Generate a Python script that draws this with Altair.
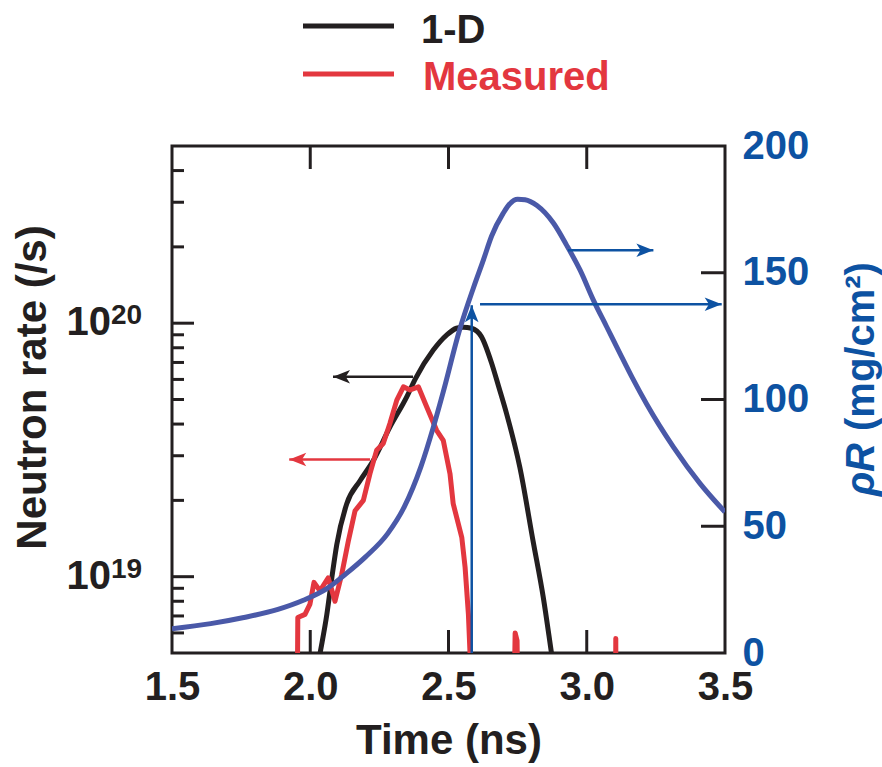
import altair as alt
import pandas as pd

FONT = "Liberation Sans, Arial, Helvetica, sans-serif"
BLACK = "#231f20"
RED = "#e3373f"
BLUE_LINE = "#4a59a8"
BLUE = "#0d52a2"

# ---------------- data ----------------
# areal density rhoR (right axis, mg/cm^2)
rho_t = [1.50, 1.64, 1.76, 1.88, 1.975, 2.06, 2.13, 2.20, 2.28, 2.34, 2.40, 2.445,
         2.481, 2.54, 2.59, 2.626, 2.656, 2.698, 2.72, 2.75, 2.777, 2.82, 2.88, 2.927,
         2.976, 3.024, 3.072, 3.12, 3.165, 3.217, 3.313, 3.41, 3.50]
rho_v = [9.6, 11.6, 14.0, 17.1, 20.8, 25.4, 31.3, 37.9, 47.1, 57.6, 73.4, 89.0,
         103.0, 127.4, 144.0, 155.0, 164.5, 173.5, 177.0, 179.0, 178.8, 176.5, 169.5,
         160.9, 151.0, 139.2, 128.7, 118.2, 108.5, 98.1, 81.3, 66.8, 55.6]

# 1-D simulated neutron rate (left axis, /s)
oned_t = [2.020, 2.035, 2.060, 2.078, 2.096, 2.132, 2.180, 2.228, 2.288, 2.349, 2.380,
          2.445, 2.494, 2.529, 2.553, 2.583, 2.619, 2.656, 2.680, 2.710, 2.758, 2.806,
          2.843, 2.873, 2.890]
oned_v = [4.0e18, 4.95e18, 7.1e18, 9.9e18, 1.34e19, 1.94e19, 2.39e19, 2.87e19, 3.89e19,
          5.12e19, 6.03e19, 7.83e19, 8.99e19, 9.55e19, 9.64e19, 9.55e19, 8.85e19, 6.95e19,
          5.69e19, 4.40e19, 2.70e19, 1.38e19, 8.26e18, 4.95e18, 3.7e18]

# measured neutron rate (left axis, /s)
meas_t = [1.950, 1.955, 1.981, 1.999, 2.0135, 2.035, 2.065, 2.0895, 2.1137, 2.1376,
          2.162, 2.192, 2.216, 2.240, 2.264, 2.288, 2.313, 2.337, 2.361, 2.391, 2.421,
          2.457, 2.481, 2.5054, 2.517, 2.548, 2.560, 2.572, 2.578, 2.585, 2.730, 2.741,
          2.748, 2.756, 3.103, 3.105, 3.107]
meas_v = [1e18, 6.9e18, 7.1e18, 7.8e18, 9.5e18, 8.8e18, 9.9e18, 8.0e18, 1.02e19, 1.38e19,
          1.82e19, 2.0e19, 2.55e19, 3.15e19, 3.35e19, 4.02e19, 4.97e19, 5.61e19, 5.45e19,
          5.61e19, 4.68e19, 3.78e19, 3.45e19, 2.55e19, 1.94e19, 1.43e19, 1.09e19, 7.1e18,
          4.95e18, 1e18, 1e18, 6.0e18, 5.6e18, 1e18, 1e18, 5.7e18, 1e18]

# axis ticks / labels
x_labels = [1.5, 2.0, 2.5, 3.0, 3.5]
x_inner_ticks = [2.0, 2.5, 3.0]
left_minor = [6e18, 7e18, 8e18, 9e18, 2e19, 3e19, 4e19, 5e19, 6e19, 7e19, 8e19, 9e19,
              2e20, 3e20, 4e20]
left_major = [1e19, 1e20]
left_exp = ["19", "20"]
right_labels = [0, 50, 100, 150, 200]
right_inner_ticks = [50, 100, 150]

# arrows: start time, tip time, level
black_arrow = {"t1": [2.3716], "t2": [2.0823], "v": [6.15e19]}
red_arrow = {"t1": [2.216], "t2": [1.924], "v": [2.90e19]}
blue_arrows = {"t1": [2.932, 2.614], "t2": [3.241, 3.488], "v": [158.9, 137.6]}
blue_up_arrow = {"t": [2.584], "v1": [0.0], "v2": [137.2]}

legend_names = ["1-D", "Measured"]

# ---------------- scales / axes ----------------
W, H = 553, 507
x_scale = alt.Scale(domain=[1.5, 3.5], nice=False, zero=False)
left_scale = alt.Scale(type="log", domain=[5e18, 5e20], nice=False)
right_scale = alt.Scale(domain=[0, 200], nice=False, zero=False)

x_axis = alt.Axis(values=x_labels, format=".1f", labelFont=FONT, labelFontSize=40,
                  labelFontWeight="bold", labelColor=BLACK, labelPadding=14,
                  labelFlush=False, labelOverlap=False, ticks=False, tickSize=0,
                  domain=False, grid=False, title="Time (ns)", titleFont=FONT,
                  titleFontSize=42, titleFontWeight="bold", titleColor=BLACK,
                  titleBaseline="alphabetic", titleY=100)
left_axis = alt.Axis(labels=False, ticks=False, domain=False, grid=False,
                     title="Neutron rate (/s)", titleFont=FONT, titleFontSize=42,
                     titleFontWeight="bold", titleColor=BLACK, titleAngle=270,
                     titleBaseline="alphabetic", titleX=-127, titleY=241)
right_axis = alt.Axis(orient="right", values=right_labels, labelFont=FONT,
                      labelFontSize=40, labelFontWeight="bold", labelColor=BLUE,
                      labelPadding=17, labelBaseline="middle", labelOverlap=False,
                      ticks=False, tickSize=0, domain=False, grid=False, title=None)


def X(f="t"):
    return alt.X(f, type="quantitative", scale=x_scale, axis=x_axis)


def YL(f="v"):
    return alt.Y(f, type="quantitative", scale=left_scale, axis=left_axis)


def YR(f="v"):
    return alt.Y(f, type="quantitative", scale=right_scale, axis=right_axis)


RIGHT_HEAD = "M0,0 L-2,-0.8 L-1.5,0 L-2,0.8 Z"
LEFT_HEAD = "M0,0 L2,-0.8 L1.5,0 L2,0.8 Z"
UP_HEAD = "M0,0 L-0.8,2 L0,1.5 L0.8,2 Z"
HEAD_SIZE = 289

# ---------------- left (log) group ----------------
df_oned = pd.DataFrame({"t": oned_t, "v": oned_v})
df_meas = pd.DataFrame({"t": meas_t, "v": meas_v})

oned_line = alt.Chart(df_oned).mark_line(color=BLACK, strokeWidth=5, clip=True,
                                         interpolate="monotone").encode(x=X(), y=YL())
meas_line = alt.Chart(df_meas).mark_line(color=RED, strokeWidth=5, clip=True,
                                         strokeJoin="round").encode(x=X(), y=YL())

df_ba = pd.DataFrame(black_arrow)
df_ra = pd.DataFrame(red_arrow)
black_shaft = alt.Chart(df_ba).mark_rule(color=BLACK, strokeWidth=2.5).encode(
    x=X("t1"), x2=alt.X2("t2"), y=YL())
black_head = alt.Chart(df_ba).mark_point(shape=LEFT_HEAD, filled=True, size=HEAD_SIZE,
                                         color=BLACK, opacity=1).encode(x=X("t2"), y=YL())
red_shaft = alt.Chart(df_ra).mark_rule(color=RED, strokeWidth=2.5).encode(
    x=X("t1"), x2=alt.X2("t2"), y=YL())
red_head = alt.Chart(df_ra).mark_point(shape=LEFT_HEAD, filled=True, size=HEAD_SIZE,
                                       color=RED, opacity=1).encode(x=X("t2"), y=YL())

df_lminor = pd.DataFrame({"v": left_minor})
df_lmajor = pd.DataFrame({"v": left_major, "e": left_exp})
left_minor_ticks = alt.Chart(df_lminor).mark_rule(color=BLACK, strokeWidth=3).encode(
    y=YL(), x=alt.value(0), x2=alt.value(12))
left_major_ticks = alt.Chart(df_lmajor).mark_rule(color=BLACK, strokeWidth=3).encode(
    y=YL(), x=alt.value(0), x2=alt.value(22))
left_base = alt.Chart(df_lmajor).mark_text(
    text="10", font=FONT, fontSize=40, fontWeight="bold", color=BLACK,
    align="right", baseline="alphabetic", dy=12).encode(y=YL(), x=alt.value(-61))
left_expo = alt.Chart(df_lmajor).mark_text(
    font=FONT, fontSize=28, fontWeight="bold", color=BLACK,
    align="left", baseline="alphabetic", dy=1).encode(y=YL(), x=alt.value(-61), text="e:N")

df_xt = pd.DataFrame({"t": x_inner_ticks})
x_top_ticks = alt.Chart(df_xt).mark_rule(color=BLACK, strokeWidth=3).encode(
    x=X(), y=alt.value(0), y2=alt.value(23))
x_bot_ticks = alt.Chart(df_xt).mark_rule(color=BLACK, strokeWidth=3).encode(
    x=X(), y=alt.value(H - 23), y2=alt.value(H))

df_leg1 = pd.DataFrame({"name": [legend_names[0]]})
df_leg2 = pd.DataFrame({"name": [legend_names[1]]})
leg1_line = alt.Chart(df_leg1).mark_rule(color=BLACK, strokeWidth=5).encode(
    x=alt.value(131), x2=alt.value(222), y=alt.value(-120))
leg2_line = alt.Chart(df_leg2).mark_rule(color=RED, strokeWidth=5).encode(
    x=alt.value(131), x2=alt.value(222), y=alt.value(-72))
leg1_text = alt.Chart(df_leg1).mark_text(
    font=FONT, fontSize=40, fontWeight="bold", color=BLACK, align="left",
    baseline="alphabetic").encode(x=alt.value(249), y=alt.value(-103), text="name:N")
leg2_text = alt.Chart(df_leg2).mark_text(
    font=FONT, fontSize=40, fontWeight="bold", color=RED, align="left",
    baseline="alphabetic").encode(x=alt.value(251), y=alt.value(-56), text="name:N")

# plot frame
frame = alt.Chart(df_leg1).mark_rect(filled=False, stroke=BLACK, strokeWidth=3).encode(
    x=alt.value(0), x2=alt.value(W), y=alt.value(0), y2=alt.value(H))

left_group = alt.layer(
    frame, left_minor_ticks, left_major_ticks, x_top_ticks, x_bot_ticks,
    oned_line, meas_line, black_shaft, black_head, red_shaft, red_head,
    left_base, left_expo, leg1_line, leg2_line, leg1_text, leg2_text)

# ---------------- right (linear) group ----------------
df_rho = pd.DataFrame({"t": rho_t, "v": rho_v})
rho_line = alt.Chart(df_rho).mark_line(color=BLUE_LINE, strokeWidth=5, clip=True,
                                       interpolate="monotone").encode(x=X(), y=YR())

df_bh = pd.DataFrame(blue_arrows)
df_bu = pd.DataFrame(blue_up_arrow)
blue_shafts = alt.Chart(df_bh).mark_rule(color=BLUE, strokeWidth=2.5).encode(
    x=X("t1"), x2=alt.X2("t2"), y=YR())
blue_heads = alt.Chart(df_bh).mark_point(shape=RIGHT_HEAD, filled=True, size=HEAD_SIZE,
                                         color=BLUE, opacity=1).encode(x=X("t2"), y=YR())
blue_up_shaft = alt.Chart(df_bu).mark_rule(color=BLUE, strokeWidth=2.5).encode(
    x=X("t"), y=YR("v1"), y2=alt.Y2("v2"))
blue_up_head = alt.Chart(df_bu).mark_point(shape=UP_HEAD, filled=True, size=HEAD_SIZE,
                                           color=BLUE, opacity=1).encode(x=X("t"), y=YR("v2"))

df_rt = pd.DataFrame({"v": right_inner_ticks})
right_ticks = alt.Chart(df_rt).mark_rule(color=BLACK, strokeWidth=3).encode(
    y=YR(), x=alt.value(W - 24), x2=alt.value(W))

df_rtitle = pd.DataFrame({"a": ["\u03c1R"], "b": ["(mg/cm\u00b2)"]})
rt_rho = alt.Chart(df_rtitle).mark_text(
    font=FONT, fontSize=40, fontWeight="bold", fontStyle="italic", color=BLUE,
    angle=270, align="right", baseline="alphabetic").encode(
    x=alt.value(702), y=alt.value(297), text="a:N")
rt_unit = alt.Chart(df_rtitle).mark_text(
    font=FONT, fontSize=40, fontWeight="bold", color=BLUE,
    angle=270, align="left", baseline="alphabetic").encode(
    x=alt.value(702), y=alt.value(285), text="b:N")

right_group = alt.layer(right_ticks, rho_line, blue_up_shaft, blue_up_head,
                        blue_shafts, blue_heads, rt_rho, rt_unit)

chart = alt.layer(left_group, right_group).resolve_scale(y="independent").properties(
    width=W, height=H,
    padding={"left": 172, "top": 146, "right": 882 - 172 - W, "bottom": 767 - 146 - H},
    autosize=alt.AutoSizeParams(type="none"),
    background="white",
).configure_view(stroke="transparent", strokeWidth=0).configure(font=FONT)

chart.save("out.html", embed_options={"renderer": "svg", "actions": False})
